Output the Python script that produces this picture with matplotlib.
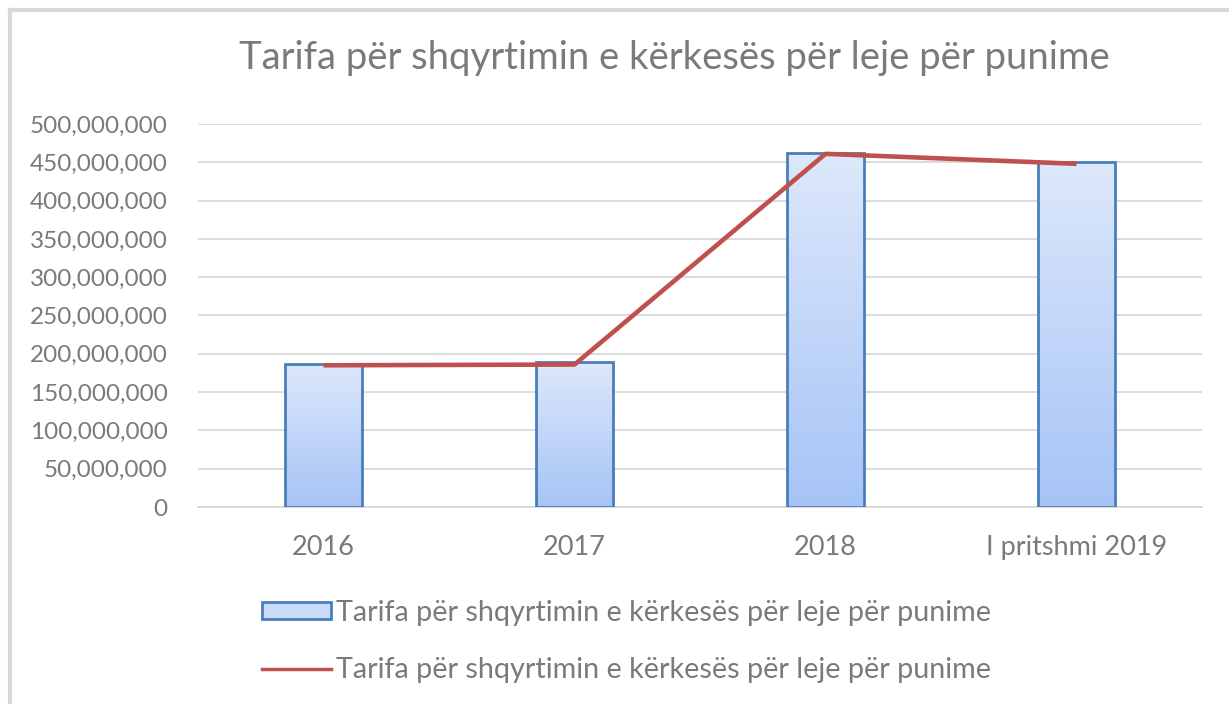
import numpy as np
import matplotlib.pyplot as plt
from matplotlib.lines import Line2D
from matplotlib.patches import Rectangle
from matplotlib.ticker import FuncFormatter
from matplotlib.colors import LinearSegmentedColormap

plt.rcParams['font.family'] = ['Lato', 'DejaVu Sans']

## datos
categorias = ['2016', '2017', '2018', 'I pritshmi 2019']
barras = [187e6, 189e6, 462e6, 450e6]
linea = [185e6, 186e6, 461e6, 448e6]
etiqueta = 'Tarifa për shqyrtimin e kërkesës për leje për punime'
titulo = 'Tarifa për shqyrtimin e kërkesës për leje për punime'

gris = '#7a7a7a'
azul_borde = '#4a7ebb'
rojo = '#c0504d'

fig = plt.figure(figsize=(12.29, 7.04), dpi=100)
ax = fig.add_axes([0.1611, 0.2798, 0.8170, 0.5441])

x = np.arange(len(categorias))
bars = ax.bar(x, barras, width=0.31, color='none', edgecolor=azul_borde, linewidth=2, zorder=3)

# degradado vertical dentro de cada barra (claro arriba, oscuro abajo)
grad = np.linspace(0, 1, 256).reshape(-1, 1)
cmap = LinearSegmentedColormap.from_list('g', ['#dde8fb', '#a6c4f6'])
for b in bars:
	x0, w, h = b.get_x(), b.get_width(), b.get_height()
	im = ax.imshow(grad, cmap=cmap, aspect='auto', extent=(x0, x0 + w, 0, h), origin='upper', zorder=2)
	im.set_clip_path(b)

ax.plot(x, linea, color=rojo, lw=3.3, zorder=4, solid_capstyle='butt')

ax.set_xlim(-0.5, len(categorias) - 0.5)
ax.set_ylim(0, 500e6)
ax.set_yticks(np.arange(0, 500e6 + 1, 50e6))
ax.yaxis.set_major_formatter(FuncFormatter(lambda v, p: '{:,.0f}'.format(v)))
ax.set_xticks(x)
ax.set_xticklabels(categorias)
ax.tick_params(axis='y', length=0, labelsize=17.5, colors=gris, pad=22)
ax.tick_params(axis='x', length=0, labelsize=19.5, colors=gris, pad=20)
ax.grid(axis='y', color='#d9d9d9', lw=1.3, zorder=0)
for s in ['top', 'right', 'left']:
	ax.spines[s].set_visible(False)
ax.spines['bottom'].set_color('#d9d9d9')
ax.spines['bottom'].set_linewidth(1.3)
ax.set_aspect('auto')

fig.text(0.549, 0.917, titulo, ha='center', va='center', fontsize=27.5, color=gris)

h1 = Rectangle((0, 0), 1, 1, facecolor='#c9dbf9', edgecolor=azul_borde, lw=2)
h2 = Line2D([0], [0], color=rojo, lw=2.5)
fig.legend([h1, h2], [etiqueta, etiqueta], loc='upper left', bbox_to_anchor=(0.2135, 0.148),
	frameon=False, fontsize=20.7, labelcolor=gris, handlelength=2.4, handleheight=0.5,
	handletextpad=0.17, labelspacing=1.1, borderaxespad=0, borderpad=0)

# marco
fig.add_artist(Line2D([0.0085, 0.0085], [0, 0.986], color='#d9d9d9', lw=3, transform=fig.transFigure))
fig.add_artist(Line2D([0.0085, 1], [0.986, 0.986], color='#d9d9d9', lw=3, transform=fig.transFigure))

fig.savefig('out.png', dpi=100)
